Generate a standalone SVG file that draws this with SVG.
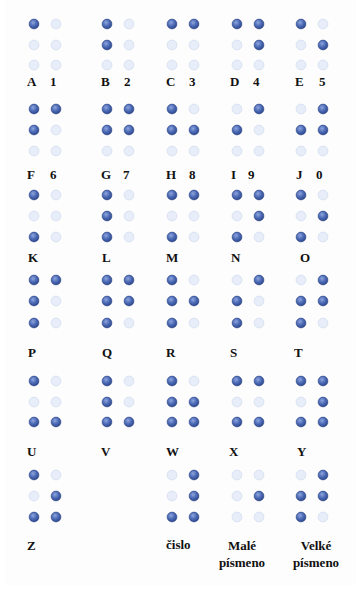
<svg xmlns="http://www.w3.org/2000/svg" width="361" height="589" viewBox="0 0 361 589">
<defs>
<radialGradient id="gOn" cx="0.4" cy="0.35" r="0.7">
<stop offset="0" stop-color="#8ea6de"/>
<stop offset="0.5" stop-color="#4d6bb6"/>
<stop offset="1" stop-color="#2a4388"/>
</radialGradient>
</defs>
<style>
circle{r:4.9px}
.d1{fill:url(#gOn);stroke:#2c4585;stroke-width:0.6}
.d0{fill:#e8eef9;stroke:#d3ddef;stroke-width:0.8}
.l{font-family:"Liberation Serif","Times New Roman",serif;font-weight:bold;font-size:13px;fill:#111}
.c{text-anchor:middle}
</style>
<rect width="361" height="589" fill="#ffffff"/>
<rect x="5" y="0" width="351" height="585" fill="#fdfdfd"/>
<g id="connectors"/>
<!-- Row 1 -->
<g id="cell-A"><circle class="d1" cx="34" cy="24" r="4.9"/><circle class="d0" cx="56" cy="24" r="4.9"/><circle class="d0" cx="34" cy="45" r="4.9"/><circle class="d0" cx="56" cy="45" r="4.9"/><circle class="d0" cx="34" cy="65" r="4.9"/><circle class="d0" cx="56" cy="65" r="4.9"/><text class="l" x="27" y="86">A</text><text class="l" x="50" y="86">1</text></g>
<g id="cell-B"><circle class="d1" cx="107" cy="24" r="4.9"/><circle class="d0" cx="129" cy="24" r="4.9"/><circle class="d1" cx="107" cy="45" r="4.9"/><circle class="d0" cx="129" cy="45" r="4.9"/><circle class="d0" cx="107" cy="65" r="4.9"/><circle class="d0" cx="129" cy="65" r="4.9"/><text class="l" x="101" y="86">B</text><text class="l" x="124" y="86">2</text></g>
<g id="cell-C"><circle class="d1" cx="172" cy="24" r="4.9"/><circle class="d1" cx="194" cy="24" r="4.9"/><circle class="d0" cx="172" cy="45" r="4.9"/><circle class="d0" cx="194" cy="45" r="4.9"/><circle class="d0" cx="172" cy="65" r="4.9"/><circle class="d0" cx="194" cy="65" r="4.9"/><text class="l" x="166" y="86">C</text><text class="l" x="189" y="86">3</text></g>
<g id="cell-D"><circle class="d1" cx="237" cy="24" r="4.9"/><circle class="d1" cx="259" cy="24" r="4.9"/><circle class="d0" cx="237" cy="45" r="4.9"/><circle class="d1" cx="259" cy="45" r="4.9"/><circle class="d0" cx="237" cy="65" r="4.9"/><circle class="d0" cx="259" cy="65" r="4.9"/><text class="l" x="230" y="86">D</text><text class="l" x="253" y="86">4</text></g>
<g id="cell-E"><circle class="d1" cx="301" cy="24" r="4.9"/><circle class="d0" cx="323" cy="24" r="4.9"/><circle class="d0" cx="301" cy="45" r="4.9"/><circle class="d1" cx="323" cy="45" r="4.9"/><circle class="d0" cx="301" cy="65" r="4.9"/><circle class="d0" cx="323" cy="65" r="4.9"/><text class="l" x="295" y="86">E</text><text class="l" x="319" y="86">5</text></g>
<!-- Row 2 -->
<g id="cell-F"><circle class="d1" cx="34" cy="109" r="4.9"/><circle class="d1" cx="56" cy="109" r="4.9"/><circle class="d1" cx="34" cy="130" r="4.9"/><circle class="d0" cx="56" cy="130" r="4.9"/><circle class="d0" cx="34" cy="151" r="4.9"/><circle class="d0" cx="56" cy="151" r="4.9"/><text class="l" x="27" y="179">F</text><text class="l" x="50" y="179">6</text></g>
<g id="cell-G"><circle class="d1" cx="107" cy="109" r="4.9"/><circle class="d1" cx="129" cy="109" r="4.9"/><circle class="d1" cx="107" cy="130" r="4.9"/><circle class="d1" cx="129" cy="130" r="4.9"/><circle class="d0" cx="107" cy="151" r="4.9"/><circle class="d0" cx="129" cy="151" r="4.9"/><text class="l" x="101" y="179">G</text><text class="l" x="123" y="179">7</text></g>
<g id="cell-H"><circle class="d1" cx="172" cy="109" r="4.9"/><circle class="d0" cx="194" cy="109" r="4.9"/><circle class="d1" cx="172" cy="130" r="4.9"/><circle class="d1" cx="194" cy="130" r="4.9"/><circle class="d0" cx="172" cy="151" r="4.9"/><circle class="d0" cx="194" cy="151" r="4.9"/><text class="l" x="166" y="179">H</text><text class="l" x="189" y="179">8</text></g>
<g id="cell-I"><circle class="d0" cx="237" cy="109" r="4.9"/><circle class="d1" cx="259" cy="109" r="4.9"/><circle class="d1" cx="237" cy="130" r="4.9"/><circle class="d0" cx="259" cy="130" r="4.9"/><circle class="d0" cx="237" cy="151" r="4.9"/><circle class="d0" cx="259" cy="151" r="4.9"/><text class="l" x="231" y="179">I</text><text class="l" x="248" y="179">9</text></g>
<g id="cell-J"><circle class="d0" cx="301" cy="109" r="4.9"/><circle class="d1" cx="323" cy="109" r="4.9"/><circle class="d1" cx="301" cy="130" r="4.9"/><circle class="d1" cx="323" cy="130" r="4.9"/><circle class="d0" cx="301" cy="151" r="4.9"/><circle class="d0" cx="323" cy="151" r="4.9"/><text class="l" x="296" y="179">J</text><text class="l" x="316" y="179">0</text></g>
<!-- Row 3 -->
<g id="cell-K"><circle class="d1" cx="34" cy="195" r="4.9"/><circle class="d0" cx="56" cy="195" r="4.9"/><circle class="d0" cx="34" cy="216" r="4.9"/><circle class="d0" cx="56" cy="216" r="4.9"/><circle class="d1" cx="34" cy="237" r="4.9"/><circle class="d0" cx="56" cy="237" r="4.9"/><text class="l" x="28" y="262">K</text></g>
<g id="cell-L"><circle class="d1" cx="107" cy="195" r="4.9"/><circle class="d0" cx="129" cy="195" r="4.9"/><circle class="d1" cx="107" cy="216" r="4.9"/><circle class="d0" cx="129" cy="216" r="4.9"/><circle class="d1" cx="107" cy="237" r="4.9"/><circle class="d0" cx="129" cy="237" r="4.9"/><text class="l" x="102" y="262">L</text></g>
<g id="cell-M"><circle class="d1" cx="172" cy="195" r="4.9"/><circle class="d1" cx="194" cy="195" r="4.9"/><circle class="d0" cx="172" cy="216" r="4.9"/><circle class="d0" cx="194" cy="216" r="4.9"/><circle class="d1" cx="172" cy="237" r="4.9"/><circle class="d0" cx="194" cy="237" r="4.9"/><text class="l" x="166" y="262">M</text></g>
<g id="cell-N"><circle class="d1" cx="237" cy="195" r="4.9"/><circle class="d1" cx="259" cy="195" r="4.9"/><circle class="d0" cx="237" cy="216" r="4.9"/><circle class="d1" cx="259" cy="216" r="4.9"/><circle class="d1" cx="237" cy="237" r="4.9"/><circle class="d0" cx="259" cy="237" r="4.9"/><text class="l" x="231" y="262">N</text></g>
<g id="cell-O"><circle class="d1" cx="301" cy="195" r="4.9"/><circle class="d0" cx="323" cy="195" r="4.9"/><circle class="d0" cx="301" cy="216" r="4.9"/><circle class="d1" cx="323" cy="216" r="4.9"/><circle class="d1" cx="301" cy="237" r="4.9"/><circle class="d0" cx="323" cy="237" r="4.9"/><text class="l" x="300" y="262">O</text></g>
<!-- Row 4 -->
<g id="cell-P"><circle class="d1" cx="34" cy="280" r="4.9"/><circle class="d1" cx="56" cy="280" r="4.9"/><circle class="d1" cx="34" cy="301" r="4.9"/><circle class="d0" cx="56" cy="301" r="4.9"/><circle class="d1" cx="34" cy="323" r="4.9"/><circle class="d0" cx="56" cy="323" r="4.9"/><text class="l" x="28" y="357">P</text></g>
<g id="cell-Q"><circle class="d1" cx="107" cy="280" r="4.9"/><circle class="d1" cx="129" cy="280" r="4.9"/><circle class="d1" cx="107" cy="301" r="4.9"/><circle class="d1" cx="129" cy="301" r="4.9"/><circle class="d1" cx="107" cy="323" r="4.9"/><circle class="d0" cx="129" cy="323" r="4.9"/><text class="l" x="102" y="357">Q</text></g>
<g id="cell-R"><circle class="d1" cx="172" cy="280" r="4.9"/><circle class="d0" cx="194" cy="280" r="4.9"/><circle class="d1" cx="172" cy="301" r="4.9"/><circle class="d1" cx="194" cy="301" r="4.9"/><circle class="d1" cx="172" cy="323" r="4.9"/><circle class="d0" cx="194" cy="323" r="4.9"/><text class="l" x="166" y="357">R</text></g>
<g id="cell-S"><circle class="d0" cx="237" cy="280" r="4.9"/><circle class="d1" cx="259" cy="280" r="4.9"/><circle class="d1" cx="237" cy="301" r="4.9"/><circle class="d0" cx="259" cy="301" r="4.9"/><circle class="d1" cx="237" cy="323" r="4.9"/><circle class="d0" cx="259" cy="323" r="4.9"/><text class="l" x="230" y="357">S</text></g>
<g id="cell-T"><circle class="d0" cx="301" cy="280" r="4.9"/><circle class="d1" cx="323" cy="280" r="4.9"/><circle class="d1" cx="301" cy="301" r="4.9"/><circle class="d1" cx="323" cy="301" r="4.9"/><circle class="d1" cx="301" cy="323" r="4.9"/><circle class="d0" cx="323" cy="323" r="4.9"/><text class="l" x="294" y="357">T</text></g>
<!-- Row 5 -->
<g id="cell-U"><circle class="d1" cx="34" cy="381" r="4.9"/><circle class="d0" cx="56" cy="381" r="4.9"/><circle class="d0" cx="34" cy="402" r="4.9"/><circle class="d0" cx="56" cy="402" r="4.9"/><circle class="d1" cx="34" cy="422" r="4.9"/><circle class="d1" cx="56" cy="422" r="4.9"/><text class="l" x="27" y="456">U</text></g>
<g id="cell-V"><circle class="d1" cx="107" cy="381" r="4.9"/><circle class="d0" cx="129" cy="381" r="4.9"/><circle class="d1" cx="107" cy="402" r="4.9"/><circle class="d0" cx="129" cy="402" r="4.9"/><circle class="d1" cx="107" cy="422" r="4.9"/><circle class="d1" cx="129" cy="422" r="4.9"/><text class="l" x="101" y="456">V</text></g>
<g id="cell-W"><circle class="d1" cx="172" cy="381" r="4.9"/><circle class="d0" cx="194" cy="381" r="4.9"/><circle class="d1" cx="172" cy="402" r="4.9"/><circle class="d1" cx="194" cy="402" r="4.9"/><circle class="d1" cx="172" cy="422" r="4.9"/><circle class="d1" cx="194" cy="422" r="4.9"/><text class="l" x="166" y="456">W</text></g>
<g id="cell-X"><circle class="d1" cx="237" cy="381" r="4.9"/><circle class="d1" cx="259" cy="381" r="4.9"/><circle class="d0" cx="237" cy="402" r="4.9"/><circle class="d0" cx="259" cy="402" r="4.9"/><circle class="d1" cx="237" cy="422" r="4.9"/><circle class="d1" cx="259" cy="422" r="4.9"/><text class="l" x="229" y="456">X</text></g>
<g id="cell-Y"><circle class="d1" cx="301" cy="381" r="4.9"/><circle class="d1" cx="323" cy="381" r="4.9"/><circle class="d0" cx="301" cy="402" r="4.9"/><circle class="d1" cx="323" cy="402" r="4.9"/><circle class="d1" cx="301" cy="422" r="4.9"/><circle class="d1" cx="323" cy="422" r="4.9"/><text class="l" x="297" y="456">Y</text></g>
<!-- Row 6 -->
<g id="cell-Z"><circle class="d1" cx="34" cy="475" r="4.9"/><circle class="d0" cx="56" cy="475" r="4.9"/><circle class="d0" cx="34" cy="496" r="4.9"/><circle class="d1" cx="56" cy="496" r="4.9"/><circle class="d1" cx="34" cy="517" r="4.9"/><circle class="d1" cx="56" cy="517" r="4.9"/><text class="l" x="27" y="550">Z</text></g>
<g id="cell-cislo"><circle class="d0" cx="172" cy="475" r="4.9"/><circle class="d1" cx="194" cy="475" r="4.9"/><circle class="d0" cx="172" cy="496" r="4.9"/><circle class="d1" cx="194" cy="496" r="4.9"/><circle class="d1" cx="172" cy="517" r="4.9"/><circle class="d1" cx="194" cy="517" r="4.9"/><text class="l" x="166" y="549">čislo</text></g>
<g id="cell-male"><circle class="d0" cx="237" cy="475" r="4.9"/><circle class="d0" cx="259" cy="475" r="4.9"/><circle class="d0" cx="237" cy="496" r="4.9"/><circle class="d1" cx="259" cy="496" r="4.9"/><circle class="d0" cx="237" cy="517" r="4.9"/><circle class="d0" cx="259" cy="517" r="4.9"/><text class="l c" x="242" y="550">Malé</text><text class="l c" x="242" y="567">písmeno</text></g>
<g id="cell-velke"><circle class="d0" cx="301" cy="475" r="4.9"/><circle class="d1" cx="323" cy="475" r="4.9"/><circle class="d1" cx="301" cy="496" r="4.9"/><circle class="d1" cx="323" cy="496" r="4.9"/><circle class="d1" cx="301" cy="517" r="4.9"/><circle class="d0" cx="323" cy="517" r="4.9"/><text class="l c" x="316" y="550">Velké</text><text class="l c" x="316" y="567">písmeno</text></g>
</svg>
